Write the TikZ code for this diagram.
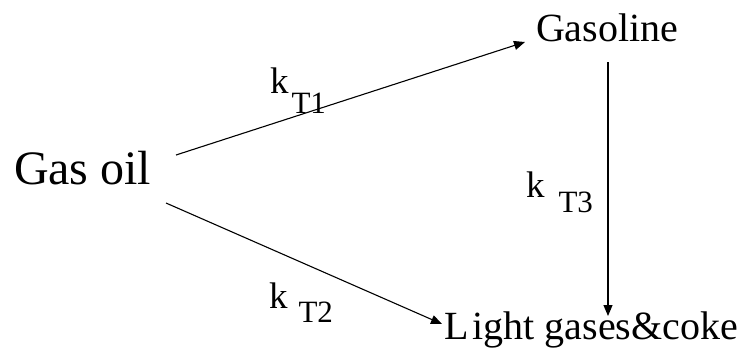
\documentclass[tikz,border=0pt]{standalone}
\usepackage{fontspec}
\setmainfont{Liberation Serif}
\usetikzlibrary{arrows.meta}
\tikzset{
  lbl/.style={anchor=base west, inner sep=0pt, outer sep=0pt},
  conn/.style={line width=1.1pt, -{Triangle[length=11pt,width=9pt]}},
}
\newcommand{\kl}[3]{{\fontsize{37}{37}\selectfont k}\hspace{#1pt}\raisebox{-#2pt}{\fontsize{31}{31}\selectfont #3}}
\begin{document}
\begin{tikzpicture}[x=1pt,y=-1pt]
\useasboundingbox (0,0) rectangle (743,349);
\node[lbl] (gasoil) at (14,184) {\fontsize{48}{48}\selectfont Gas oil};
\node[lbl] (gasoline) at (536,41) {\fontsize{40}{40}\selectfont Gasoline};
\node[lbl] (light) at (444,339) {\fontsize{40}{40}\selectfont L\kern4pt ight gases\&coke};
\node[lbl] (k1) at (270,93) {\kl{3}{20}{T1}};
\node[lbl] (k2) at (269,308) {\kl{11}{14}{T2}};
\node[lbl] (k3) at (526,197) {\kl{14}{15}{T3}};
\coordinate (a1s) at (176,155);
\coordinate (a1e) at (525,42);
\coordinate (a2s) at (166,203);
\coordinate (a2e) at (442,324);
\coordinate (a3s) at (608,62);
\coordinate (a3e) at (608,316);
\draw[conn] (a1s) -- (a1e);
\draw[conn] (a2s) -- (a2e);
\draw[conn] (a3s) -- (a3e);
\end{tikzpicture}
\end{document}
